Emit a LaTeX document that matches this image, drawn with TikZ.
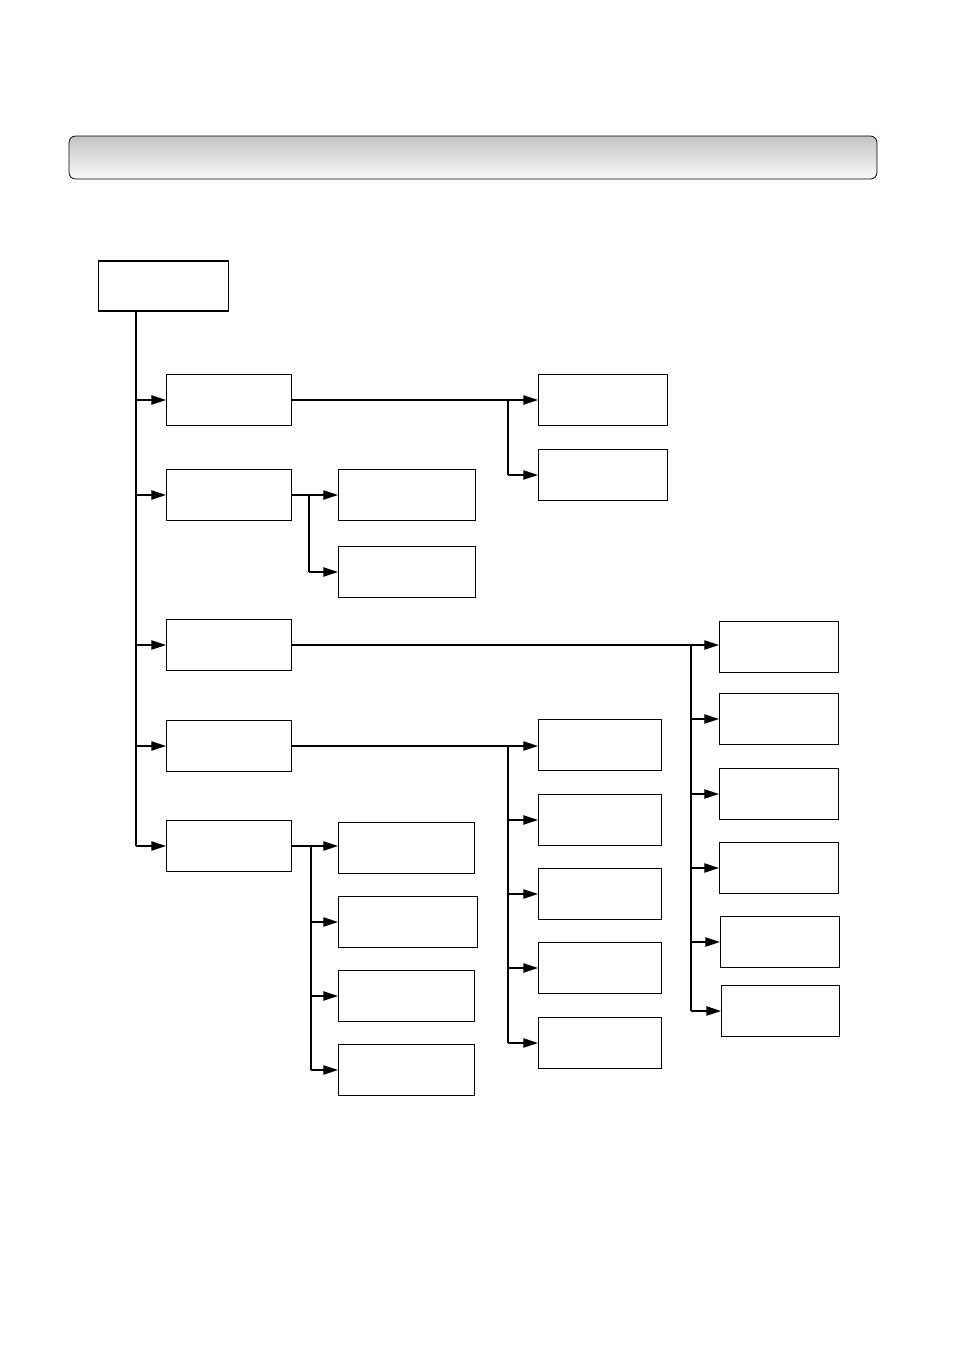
\documentclass[tikz,border=0pt]{standalone}
\usepackage{tikz}
\usepackage{xcolor}
\usetikzlibrary{calc,arrows.meta,positioning}
\definecolor{barGray}{RGB}{196,196,196}
\definecolor{barWhite}{RGB}{250,250,250}
\tikzset{
  box/.style={draw=black,line width=.9pt,anchor=west,minimum height=38.25pt,inner sep=0pt},
  link/.style={line width=.9pt,-{Triangle[length=11pt,width=7pt]}},
  bus/.style={line width=1.1pt}
}

\begin{document}
\begin{tikzpicture}[x=.75pt,y=-.75pt]
\useasboundingbox (0,0) rectangle (954,1350);
% title bar
\draw[rounded corners=5pt,line width=.6pt,top color=barGray,bottom color=barWhite] (69,136) rectangle (877,179);
% root and first level
\node[box,minimum width=97.5pt,minimum height=37.5pt] (menu) at (98,286) {};
\node[box,minimum width=93.75pt] (setA) at (166,400) {};
\node[box,minimum width=93.75pt] (setB) at (166,495) {};
\node[box,minimum width=93.75pt] (setC) at (166,645) {};
\node[box,minimum width=93.75pt] (setD) at (166,746) {};
\node[box,minimum width=93.75pt] (setE) at (166,846) {};
% second level
\node[box,minimum width=96.75pt] (a1) at (538,400) {};
\node[box,minimum width=96.75pt] (a2) at (538,475) {};
\node[box,minimum width=102.75pt] (b1) at (338,495) {};
\node[box,minimum width=102.75pt] (b2) at (338,572) {};
\node[box,minimum width=89.25pt] (c1) at (719,647) {};
\node[box,minimum width=89.25pt] (c2) at (719,719) {};
\node[box,minimum width=89.25pt] (c3) at (719,794) {};
\node[box,minimum width=89.25pt] (c4) at (719,868) {};
\node[box,minimum width=89.25pt] (c5) at (720,942) {};
\node[box,minimum width=88.5pt] (c6) at (721,1011) {};
\node[box,minimum width=92.25pt] (d1) at (538,745) {};
\node[box,minimum width=92.25pt] (d2) at (538,820) {};
\node[box,minimum width=92.25pt] (d3) at (538,894) {};
\node[box,minimum width=92.25pt] (d4) at (538,968) {};
\node[box,minimum width=92.25pt] (d5) at (538,1043) {};
\node[box,minimum width=102pt] (e1) at (338,848) {};
\node[box,minimum width=104.25pt] (e2) at (338,922) {};
\node[box,minimum width=102pt] (e3) at (338,996) {};
\node[box,minimum width=102pt] (e4) at (338,1070) {};
% bus lines
\coordinate (trunk) at (136,0);
\coordinate (busA) at (508,0);
\coordinate (busB) at (309,0);
\coordinate (busC) at (691,0);
\coordinate (busD) at (508,0);
\coordinate (busE) at (311,0);
\draw[bus] (trunk |- menu.south) -- (trunk |- setE.west);
\foreach \n in {setA,setB,setC,setD,setE}
  \draw[link] (trunk |- \n.west) -- (\n.west);
% first branch
\draw[line width=.8pt] (setA.east) -- (busA |- setA.east);
\draw[link] (busA |- setA.east) -- (setA.east -| a1.west);
\draw[bus] (busA |- setA.east) -- (busA |- a2.west);
\draw[link] (busA |- a2.west) -- (a2.west);
% second branch
\draw[line width=.8pt] (setB.east) -- (busB |- setB.east);
\draw[link] (busB |- setB.east) -- (setB.east -| b1.west);
\draw[bus] (busB |- setB.east) -- (busB |- b2.west);
\draw[link] (busB |- b2.west) -- (b2.west);
% third branch
\draw[bus] (setC.east) -- (busC |- setC.east);
\draw[link] (busC |- setC.east) -- (setC.east -| c1.west);
\draw[bus] (busC |- setC.east) -- (busC |- c6.west);
\foreach \n in {c2,c3,c4,c5,c6}
  \draw[link] (busC |- \n.west) -- (\n.west);
% fourth branch
\draw[bus] (setD.east) -- (busD |- setD.east);
\draw[link] (busD |- setD.east) -- (setD.east -| d1.west);
\draw[bus] (busD |- setD.east) -- (busD |- d5.west);
\foreach \n in {d2,d3,d4,d5}
  \draw[link] (busD |- \n.west) -- (\n.west);
% fifth branch
\draw[bus] (setE.east) -- (busE |- setE.east);
\draw[link] (busE |- setE.east) -- (setE.east -| e1.west);
\draw[line width=.8pt] (busE |- setE.east) -- (busE |- e4.west);
\foreach \n in {e2,e3,e4}
  \draw[link] (busE |- \n.west) -- (\n.west);
\end{tikzpicture}
\end{document}
